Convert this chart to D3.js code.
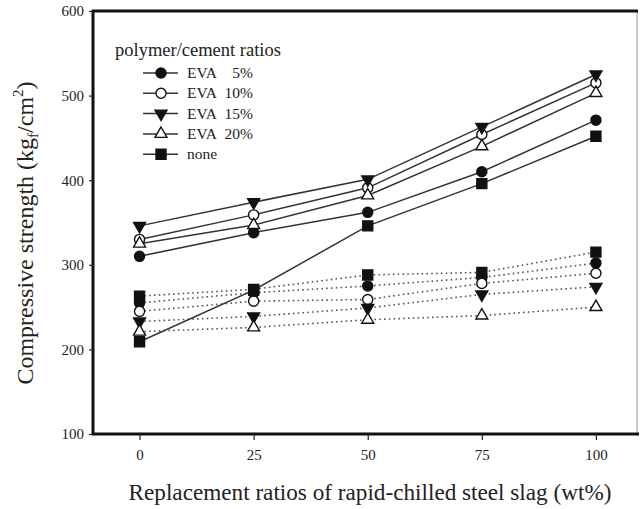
<!DOCTYPE html>
<html>
<head>
<meta charset="utf-8">
<script src="https://cdn.jsdelivr.net/npm/d3@7"></script>
<style>
  body { margin: 0; background: #fff; }
  svg text { font-family: "Liberation Serif", "Times New Roman", "DejaVu Serif", serif !important; fill: #222; }
</style>
</head>
<body>
<script>
// replacement ratios (wt%) on the x axis
const ratios = [0, 25, 50, 75, 100];
const xTicks = [0, 25, 50, 75, 100];
const yTicks = [100, 200, 300, 400, 500, 600];

// legend entries, in order
const seriesNames = ["EVA|5%", "EVA|10%", "EVA|15%", "EVA|20%", "none"];
const seriesSymbols = ["circle", "circleOpen", "triDown", "triOpen", "square"];

// solid lines
const solidEva5  = [310, 338, 362, 410, 471];
const solidEva10 = [330, 359, 391, 454, 515];
const solidEva15 = [346, 374, 401, 463, 525];
const solidEva20 = [325, 347, 382, 440, 503];
const solidNone  = [209, 270, 346, 396, 452];

// dotted lines
const dottedEva5  = [255, 267, 275, 285, 302];
const dottedEva10 = [245, 257, 259, 278, 290];
const dottedEva15 = [233, 239, 249, 265, 274];
const dottedEva20 = [221, 226, 235, 240, 250];
const dottedNone  = [263, 271, 288, 291, 315];

const solidSets  = [solidEva5, solidEva10, solidEva15, solidEva20, solidNone];
const dottedSets = [dottedEva5, dottedEva10, dottedEva15, dottedEva20, dottedNone];

let w = 640, h = 509;
let pLeft = 93, pRight = 637, pTop = 11, pBottom = 434;
let serif = "'Liberation Serif', 'Times New Roman', serif";

let svg = d3.select("body").append("svg")
    .attr("width", w)
    .attr("height", h);

let xScale = d3.scaleLinear().domain([-10.2, 109]).range([pLeft, pRight]);
let yScale = d3.scaleLinear().domain([100, 600]).range([pBottom, pTop]);

let line = d3.line()
    .x(function(d, i) { return xScale(ratios[i]); })
    .y(function(d) { return yScale(d); });

// dotted lines first, then solid
dottedSets.forEach(function(vals) {
    svg.append("path")
        .datum(vals)
        .attr("d", line)
        .attr("fill", "none")
        .attr("stroke", "#555")
        .attr("stroke-width", 1.6)
        .attr("stroke-dasharray", "1.6,3.2");
});
solidSets.forEach(function(vals) {
    svg.append("path")
        .datum(vals)
        .attr("d", line)
        .attr("fill", "none")
        .attr("stroke", "#333")
        .attr("stroke-width", 1.5);
});

function drawMarker(g, kind, x, y) {
    let sym, size, rot = 0, open = false;
    if (kind === "circle" || kind === "circleOpen") { sym = d3.symbolCircle; size = 80; }
    if (kind === "square") { sym = d3.symbolSquare; size = 100; }
    if (kind === "triDown" || kind === "triOpen") { sym = d3.symbolTriangle; size = 62; }
    if (kind === "triDown") rot = 180;
    if (kind === "circleOpen" || kind === "triOpen") open = true;
    g.append("path")
        .attr("d", d3.symbol().type(sym).size(size)())
        .attr("transform", "translate(" + x + "," + y + ") rotate(" + rot + ")")
        .attr("fill", open ? "#fff" : "#111")
        .attr("stroke", "#111")
        .attr("stroke-width", 1.4);
}

let marks = svg.append("g");
[dottedSets, solidSets].forEach(function(sets) {
    sets.forEach(function(vals, k) {
        vals.forEach(function(v, i) {
            drawMarker(marks, seriesSymbols[k], xScale(ratios[i]), yScale(v));
        });
    });
});

// frame
svg.append("line").attr("x1", pRight).attr("x2", pRight).attr("y1", pTop).attr("y2", pBottom)
    .attr("stroke", "#999").attr("stroke-width", 1);
svg.append("line").attr("x1", pLeft - 1).attr("x2", pRight + 1).attr("y1", pTop).attr("y2", pTop)
    .attr("stroke", "#111").attr("stroke-width", 3);

let xAxis = svg.append("g")
    .attr("transform", "translate(0," + pBottom + ")")
    .call(d3.axisBottom(xScale).tickValues(xTicks).tickSize(6).tickPadding(9));
let yAxis = svg.append("g")
    .attr("transform", "translate(" + pLeft + ",0)")
    .call(d3.axisLeft(yScale).tickValues(yTicks).tickSize(4).tickPadding(5));

[xAxis, yAxis].forEach(function(ax) {
    ax.attr("font-family", serif);
    ax.select(".domain").attr("stroke", "#111").attr("stroke-width", 3);
    ax.selectAll(".tick line").attr("stroke", "#222").attr("stroke-width", 1.2);
    ax.selectAll(".tick text")
        .attr("font-size", 15)
        .attr("fill", "#222");
});
xAxis.select(".domain").attr("d", "M" + (pLeft - 1) + ",0H" + (pRight + 2));
yAxis.select(".domain").attr("d", "M0," + (pTop - 1) + "V" + (pBottom + 1));

// axis titles
svg.append("text")
    .attr("x", 370).attr("y", 500)
    .attr("text-anchor", "middle")
    .attr("font-family", serif)
    .attr("font-size", 23.2)
    .text("Replacement ratios of rapid-chilled steel slag (wt%)");

let yt = svg.append("text")
    .attr("transform", "translate(33,233) rotate(-90)")
    .attr("text-anchor", "middle")
    .attr("font-family", serif)
    .attr("font-size", 24);
yt.append("tspan").text("Compressive strength (kg");
yt.append("tspan").attr("font-size", 15).attr("dy", 5).text("f");
yt.append("tspan").attr("dy", -5).text("/cm");
yt.append("tspan").attr("font-size", 15).attr("dy", -10).text("2");
yt.append("tspan").attr("dy", 10).text(")");

// legend
let legend = svg.append("g").attr("font-family", serif);
legend.append("text")
    .attr("x", 115).attr("y", 56)
    .attr("font-size", 18.5)
    .text("polymer/cement ratios");
seriesNames.forEach(function(name, k) {
    let y = 73 + k * 20.3;
    legend.append("line")
        .attr("x1", 143).attr("x2", 178).attr("y1", y).attr("y2", y)
        .attr("stroke", "#333").attr("stroke-width", 1.5);
    drawMarker(legend, seriesSymbols[k], 161, y);
    let parts = name.split("|");
    legend.append("text")
        .attr("x", 187).attr("y", y + 5)
        .attr("font-size", 15.5)
        .text(parts[0]);
    if (parts[1]) {
        legend.append("text")
            .attr("x", 253).attr("y", y + 5)
            .attr("text-anchor", "end")
            .attr("font-size", 15.5)
            .text(parts[1]);
    }
});
</script>
</body>
</html>
